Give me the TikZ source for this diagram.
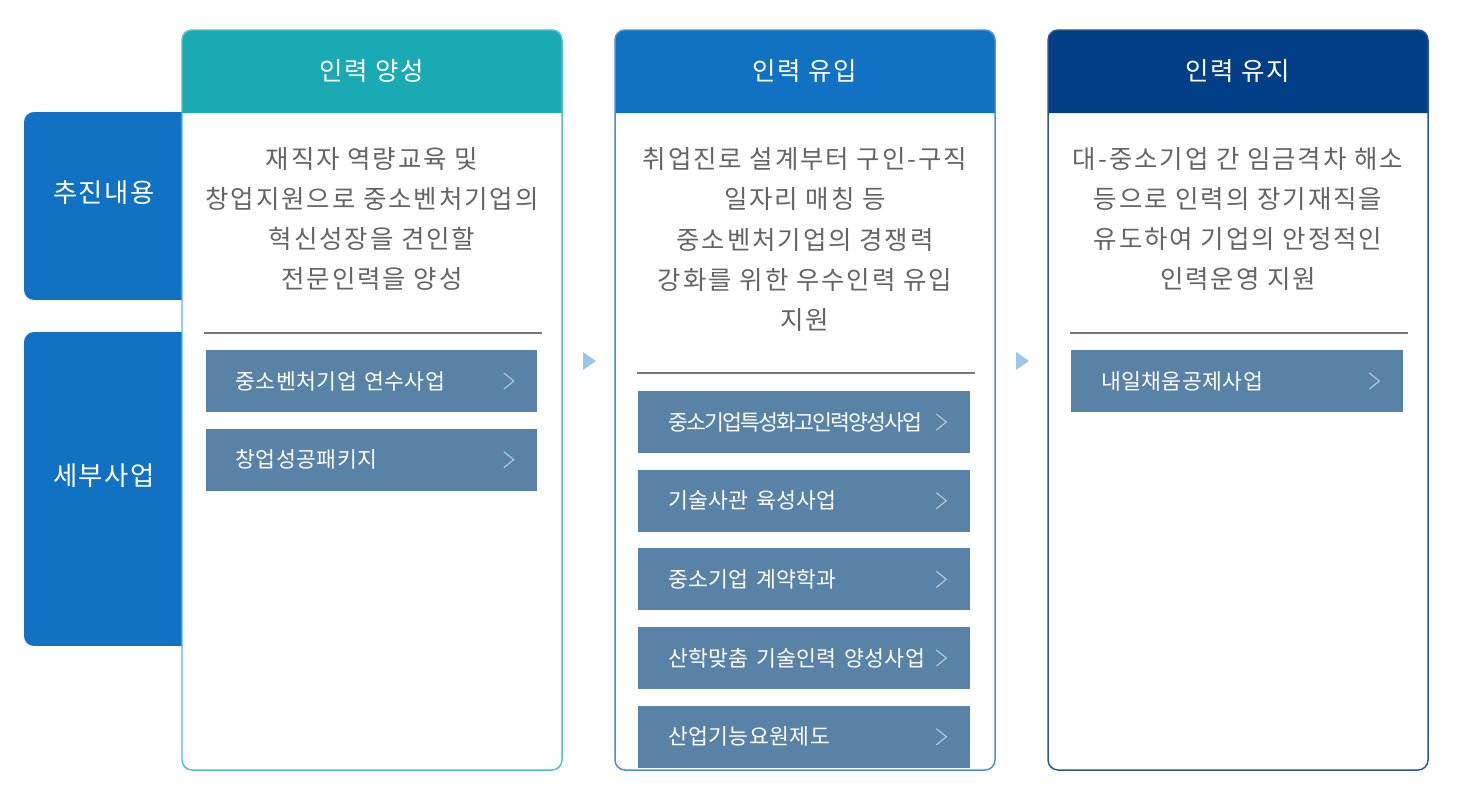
\documentclass[tikz,border=0pt]{standalone}
\usepackage{fontspec}
\setmainfont{Noto Sans CJK KR}
\usepackage{xcolor}
\usetikzlibrary{positioning}

\definecolor{sideblue}{RGB}{17,113,194}
\definecolor{tealhead}{RGB}{26,170,180}
\definecolor{tealline}{RGB}{80,192,200}
\definecolor{bluehead}{RGB}{17,114,196}
\definecolor{blueline}{RGB}{70,145,212}
\definecolor{navyhead}{RGB}{2,63,135}
\definecolor{navyline}{RGB}{45,85,150}
\definecolor{itemblue}{RGB}{88,130,166}
\definecolor{descgray}{RGB}{100,100,100}
\definecolor{sepgray}{RGB}{120,120,120}
\definecolor{chevgray}{RGB}{190,205,220}
\definecolor{triblue}{RGB}{157,198,230}

\newcommand{\chevron}[1]{\draw[chev] ([shift={(-34,-8)}]#1.east) -- ++(10,8) -- ++(-10,8);}

\begin{document}
\begin{tikzpicture}[
x=0.02cm,
y=-0.02cm,
node distance=0.32cm,
every node/.style={font=\fontsize{13.5}{22.8}\selectfont},
side/.style={rectangle,rounded corners=0.2cm,fill=sideblue,minimum width=3.52cm,inner sep=0pt},
sidetxt/.style={text=white,font=\fontsize{15}{17}\selectfont\addfontfeature{LetterSpace=6}},
head/.style={text=white,font=\fontsize{14.5}{17}\selectfont\addfontfeature{LetterSpace=6}},
desc/.style={align=center,text=descgray,inner sep=0pt,font=\fontsize{14.5}{22.8}\selectfont\addfontfeature{LetterSpace=7.5}},
item/.style={rectangle,fill=itemblue,text=white,font=\fontsize{12.3}{14}\selectfont\addfontfeature{LetterSpace=2},minimum width=6.64cm,minimum height=1.24cm,text width=5.44cm,inner xsep=0.6cm,inner ysep=0pt,align=left},
sep/.style={draw=sepgray,line width=0.85pt},
chev/.style={draw=chevgray,line width=0.6pt},
tri/.style={fill=triblue},
frame/.style={rounded corners=0.2cm,line width=0.85pt}
]
\useasboundingbox (0,0) rectangle (1470,805);

% side labels
\node[side,minimum height=3.76cm] (plan) at (112,206) {};
\node[side,minimum height=6.28cm] (detail) at (112,489) {};
\node[sidetxt] (plantxt) at (104,193) {추진내용};
\node[sidetxt] (detailtxt) at (104,476) {세부사업};

% panel 1
\fill[white,rounded corners=0.2cm] (182,30) rectangle (562,770);
\fill[tealhead] (182,113) [rounded corners=0.2cm] -- (182,30) -- (562,30) [sharp corners] -- (562,113) -- cycle;
\draw[frame,draw=tealline] (182,30) rectangle (562,770);
\node[head] (hA) at (372,71) {인력 양성};
\node[desc] (dA) at (372,219) {재직자 역량교육 및\\창업지원으로 중소벤처기업의\\혁신성장을 견인할\\전문인력을 양성};
\draw[sep] (204,333) -- (542,333);
\node[item] (a1) at (371.5,381) {중소벤처기업 연수사업};
\node[item,below=of a1] (a2) {창업성공패키지};

% panel 2
\fill[white,rounded corners=0.2cm] (615,30) rectangle (995,770);
\fill[bluehead] (615,113) [rounded corners=0.2cm] -- (615,30) -- (995,30) [sharp corners] -- (995,113) -- cycle;
\draw[frame,draw=blueline] (615,30) rectangle (995,770);
\node[head] (hB) at (805,71) {인력 유입};
\node[desc] (dB) at (805,239.5) {취업진로 설계부터 구인-구직\\일자리 매칭 등\\중소벤처기업의 경쟁력\\강화를 위한 우수인력 유입\\지원};
\draw[sep] (637,373) -- (975,373);
\node[item] (b1) at (804,422) {\addfontfeature{LetterSpace=-8.5}중소기업특성화고인력양성사업};
\node[item,below=of b1] (b2) {기술사관 육성사업};
\node[item,below=of b2] (b3) {중소기업 계약학과};
\node[item,below=of b3] (b4) {산학맞춤 기술인력 양성사업};
\node[item,below=of b4] (b5) {산업기능요원제도};

% panel 3
\fill[white,rounded corners=0.2cm] (1048,30) rectangle (1428,770);
\fill[navyhead] (1048,113) [rounded corners=0.2cm] -- (1048,30) -- (1428,30) [sharp corners] -- (1428,113) -- cycle;
\draw[frame,draw=navyline] (1048,30) rectangle (1428,770);
\node[head] (hC) at (1238,71) {인력 유지};
\node[desc] (dC) at (1238,219) {대-중소기업 간 임금격차 해소\\등으로 인력의 장기재직을\\유도하여 기업의 안정적인\\인력운영 지원};
\draw[sep] (1070,333) -- (1408,333);
\node[item] (c1) at (1237,381) {내일채움공제사업};

\foreach \n in {a1,a2,b1,b2,b3,b4,b5,c1} {\chevron{\n}}

% step marks
\fill[tri] (583,352) -- (596,361) -- (583,370) -- cycle;
\fill[tri] (1016,352) -- (1029,361) -- (1016,370) -- cycle;
\end{tikzpicture}
\end{document}
